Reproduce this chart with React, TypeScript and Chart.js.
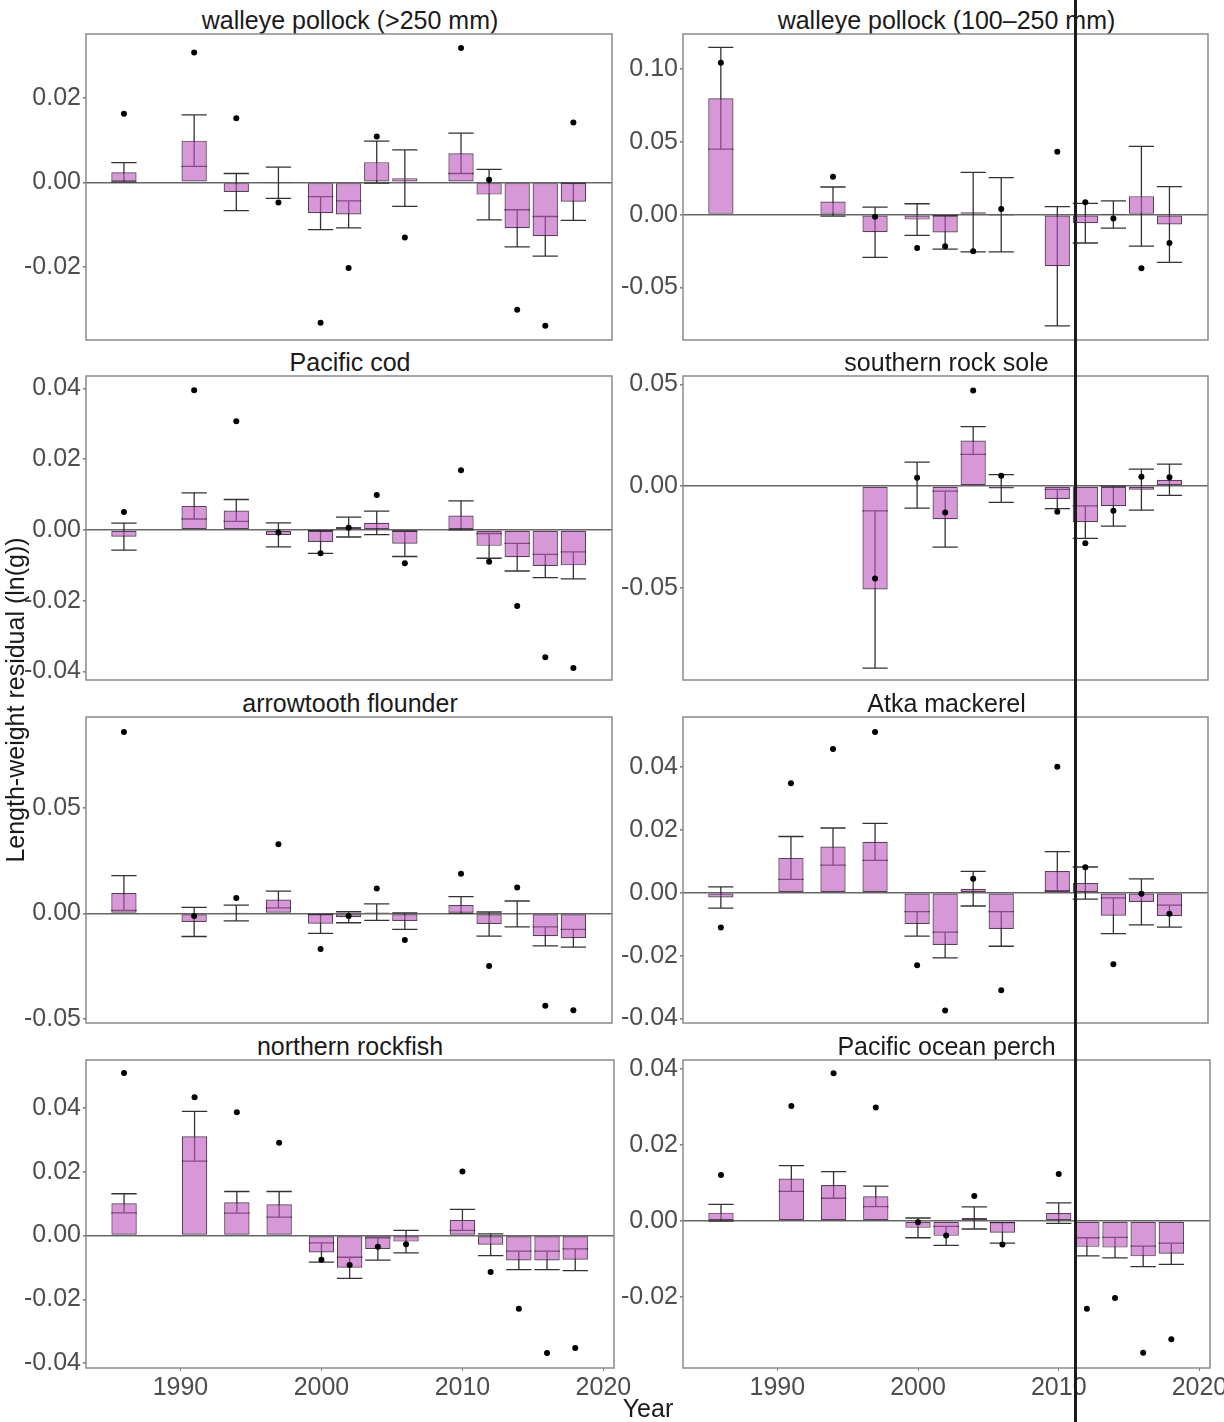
import React, { useEffect, useRef } from "react";
import { Chart, registerables } from "chart.js";

Chart.register(...registerables);

const FONT = "'Liberation Sans', Arial, Helvetica, sans-serif";

// Survey years (x categories)
const YEARS = [1986, 1991, 1994, 1997, 2000, 2002, 2004, 2006, 2010, 2012, 2014, 2016, 2018];
const X_TICKS = [1990, 2000, 2010, 2020];

// walleye pollock (>250 mm)
const pollockLargeMean = [0.0024, 0.0099, -0.0023, -0.0001, -0.0073, -0.0076, 0.0048, 0.001, 0.0069, -0.0029, -0.0109, -0.0128, -0.0046];
const pollockLargeSE = [0.0023, 0.0061, 0.0044, 0.0037, 0.0039, 0.0032, 0.005, 0.0067, 0.0048, 0.006, 0.0044, 0.0047, 0.0044];
const pollockLargePoint = [0.0163, 0.0308, 0.0152, -0.0048, -0.0333, -0.0203, 0.0109, -0.0131, 0.0319, 0.0006, -0.0302, -0.034, 0.0142];
const pollockLargeTicks = [-0.02, 0, 0.02];

// walleye pollock (100–250 mm)
const pollockSmallMean = [0.08, null, 0.009, -0.0121, -0.0034, -0.0122, 0.0017, -0.0001, -0.0355, -0.0059, 0.0001, 0.0127, -0.0068];
const pollockSmallSE = [0.035, null, 0.01, 0.0173, 0.0109, 0.0115, 0.0273, 0.0255, 0.041, 0.0136, 0.0094, 0.0343, 0.026];
const pollockSmallPoint = [0.1045, null, 0.026, -0.0014, -0.0229, -0.0217, -0.0251, 0.0039, 0.0432, 0.0086, -0.0027, -0.0369, -0.0195];
const pollockSmallTicks = [-0.05, 0, 0.05, 0.1];

// Pacific cod
const codMean = [-0.0019, 0.0068, 0.0055, -0.0014, -0.0034, 0.0008, 0.002, -0.0039, 0.0041, -0.0045, -0.0077, -0.0102, -0.01];
const codSE = [0.0038, 0.0037, 0.0031, 0.0034, 0.0032, 0.0028, 0.0033, 0.0036, 0.0041, 0.0035, 0.0039, 0.0033, 0.0038];
const codPoint = [0.0051, 0.0395, 0.0307, -0.0007, -0.0066, 0.0006, 0.0099, -0.0094, 0.0169, -0.009, -0.0215, -0.036, -0.039];
const codTicks = [-0.04, -0.02, 0, 0.02, 0.04];

// southern rock sole
const soleMean = [null, null, null, -0.0509, 0.0004, -0.0163, 0.0224, -0.0012, -0.0064, -0.0178, -0.0099, -0.0018, 0.0031];
const soleSE = [null, null, null, 0.0387, 0.0113, 0.0138, 0.0068, 0.0068, 0.0047, 0.008, 0.0098, 0.0101, 0.0077];
const solePoint = [null, null, null, -0.0455, 0.0041, -0.013, 0.047, 0.0051, -0.0127, -0.0281, -0.0122, 0.0045, 0.0043];
const soleTicks = [-0.05, 0, 0.05];

// arrowtooth flounder
const arrowtoothMean = [0.0097, -0.004, 0.0002, 0.0066, -0.0049, -0.0018, 0.0006, -0.0036, 0.004, -0.005, -0.0002, -0.0108, -0.0117];
const arrowtoothSE = [0.0082, 0.0069, 0.0037, 0.004, 0.0045, 0.0026, 0.0039, 0.0039, 0.004, 0.0057, 0.0061, 0.0045, 0.0042];
const arrowtoothPoint = [0.0858, -0.0012, 0.0073, 0.0327, -0.0168, -0.0012, 0.0118, -0.0125, 0.0188, -0.0249, 0.0123, -0.0437, -0.0458];
const arrowtoothTicks = [-0.05, 0, 0.05];

// Atka mackerel
const atkaMean = [-0.0015, 0.0111, 0.0147, 0.0162, -0.0099, -0.0166, 0.0013, -0.0115, 0.0069, 0.0031, -0.0073, -0.0029, -0.0074];
const atkaSE = [0.0034, 0.0068, 0.0059, 0.0059, 0.0039, 0.0041, 0.0055, 0.0055, 0.0062, 0.0051, 0.0057, 0.0073, 0.0035];
const atkaPoint = [-0.011, 0.0348, 0.0457, 0.0511, -0.023, -0.0374, 0.0045, -0.031, 0.0401, 0.0081, -0.0227, -0.0003, -0.0067];
const atkaTicks = [-0.04, -0.02, 0, 0.02, 0.04];

// northern rockfish
const northernMean = [0.0101, 0.0311, 0.0104, 0.0098, -0.0053, -0.0101, -0.0042, -0.0019, 0.0049, -0.0029, -0.0078, -0.0078, -0.0076];
const northernSE = [0.003, 0.0078, 0.0034, 0.004, 0.003, 0.0033, 0.0035, 0.0035, 0.0033, 0.0034, 0.0029, 0.0029, 0.0034];
const northernPoint = [0.0509, 0.0433, 0.0386, 0.0291, -0.0076, -0.0092, -0.0035, -0.0027, 0.0201, -0.0114, -0.0229, -0.0368, -0.0352];
const northernTicks = [-0.04, -0.02, 0, 0.02, 0.04];

// Pacific ocean perch
const popMean = [0.0022, 0.0112, 0.0095, 0.0065, -0.0018, -0.0039, 0.0008, -0.0031, 0.0021, -0.0068, -0.007, -0.0093, -0.0086];
const popSE = [0.0022, 0.0034, 0.0035, 0.0027, 0.0026, 0.0025, 0.0029, 0.0027, 0.0027, 0.0024, 0.0027, 0.0027, 0.0028];
const popPoint = [0.0121, 0.0303, 0.0389, 0.0299, -0.0003, -0.0038, 0.0066, -0.0062, 0.0124, -0.0231, -0.0203, -0.0347, -0.0311];
const popTicks = [-0.02, 0, 0.02, 0.04];

type Panel = {
  title: string;
  mean: (number | null)[];
  se: (number | null)[];
  point: (number | null)[];
  yMin: number;
  yMax: number;
  yTicks: number[];
  row: number;
  col: number;
};

const PANELS: Panel[] = [
  { title: "walleye pollock (>250 mm)", mean: pollockLargeMean, se: pollockLargeSE, point: pollockLargePoint, yMin: -0.0374, yMax: 0.0352, yTicks: pollockLargeTicks, row: 0, col: 0 },
  { title: "walleye pollock (100\u2013250 mm)", mean: pollockSmallMean, se: pollockSmallSE, point: pollockSmallPoint, yMin: -0.0862, yMax: 0.1242, yTicks: pollockSmallTicks, row: 0, col: 1 },
  { title: "Pacific cod", mean: codMean, se: codSE, point: codPoint, yMin: -0.0424, yMax: 0.0435, yTicks: codTicks, row: 1, col: 0 },
  { title: "southern rock sole", mean: soleMean, se: soleSE, point: solePoint, yMin: -0.0954, yMax: 0.0541, yTicks: soleTicks, row: 1, col: 1 },
  { title: "arrowtooth flounder", mean: arrowtoothMean, se: arrowtoothSE, point: arrowtoothPoint, yMin: -0.0518, yMax: 0.0929, yTicks: arrowtoothTicks, row: 2, col: 0 },
  { title: "Atka mackerel", mean: atkaMean, se: atkaSE, point: atkaPoint, yMin: -0.0414, yMax: 0.0559, yTicks: atkaTicks, row: 2, col: 1 },
  { title: "northern rockfish", mean: northernMean, se: northernSE, point: northernPoint, yMin: -0.0415, yMax: 0.055, yTicks: northernTicks, row: 3, col: 0 },
  { title: "Pacific ocean perch", mean: popMean, se: popSE, point: popPoint, yMin: -0.0387, yMax: 0.0424, yTicks: popTicks, row: 3, col: 1 },
];

const COLS = [
  { left: 86, right: 614 },
  { left: 683, right: 1210 },
];
const ROWS = [
  { top: 32, bottom: 342 },
  { top: 374, bottom: 682 },
  { top: 715, bottom: 1025 },
  { top: 1058, bottom: 1368 },
];
const AX = 90;
const PAD = 2;
const XH = 36;
const X_MIN = 1983.3;
const X_MAX = 2020.75;
const TICK_SIZE = 25;
const TICK_COLOR = "#4d4d4d";
const TEXT_SIZE = 25;

function makeDecor(p: Panel) {
  return {
    id: "panelDecor",
    beforeDatasetsDraw(chart: any) {
      const { ctx } = chart;
      const x = chart.scales.x;
      const y = chart.scales.y;
      ctx.save();
      ctx.strokeStyle = "#333333";
      ctx.lineWidth = 1.3;
      YEARS.forEach((yr, i) => {
        const m = p.mean[i];
        const s = p.se[i];
        if (m == null || s == null) return;
        const xc = x.getPixelForValue(yr);
        const xl = x.getPixelForValue(yr - 0.9);
        const xr = x.getPixelForValue(yr + 0.9);
        const yt = y.getPixelForValue(m + s);
        const yb = y.getPixelForValue(m - s);
        ctx.beginPath();
        ctx.moveTo(xc, yt);
        ctx.lineTo(xc, yb);
        ctx.moveTo(xl, yt);
        ctx.lineTo(xr, yt);
        ctx.moveTo(xl, yb);
        ctx.lineTo(xr, yb);
        ctx.stroke();
      });
      ctx.restore();
    },
    afterDraw(chart: any) {
      const { ctx, chartArea: a } = chart;
      ctx.save();
      ctx.strokeStyle = "#8a8a8a";
      ctx.lineWidth = 1.5;
      ctx.strokeRect(a.left, a.top, a.right - a.left, a.bottom - a.top);
      ctx.restore();
    },
  };
}

function PanelChart({ p }: { p: Panel }) {
  const ref = useRef<HTMLCanvasElement>(null);
  const col = COLS[p.col];
  const row = ROWS[p.row];
  const isBottom = p.row === 3;
  const plotW = col.right - col.left;
  const plotH = row.bottom - row.top;
  const rpad = isBottom ? 40 : PAD;
  const w = AX + plotW + rpad;
  const h = plotH + 2 * PAD + (isBottom ? XH : 0);

  useEffect(() => {
    const bars = YEARS.map((yr, i) => (p.mean[i] == null ? null : { x: yr, y: p.mean[i] as number })).filter(
      (d) => d !== null
    );
    const pts = YEARS.map((yr, i) => (p.point[i] == null ? null : { x: yr, y: p.point[i] as number })).filter(
      (d) => d !== null
    );
    const chart = new Chart(ref.current as HTMLCanvasElement, {
      type: "bar",
      data: {
        datasets: [
          {
            type: "scatter",
            data: pts as any,
            pointRadius: 3,
            pointBackgroundColor: "#000",
            pointBorderWidth: 0,
            order: 0,
          } as any,
          {
            type: "bar",
            data: bars as any,
            backgroundColor: "rgba(190,88,190,0.62)",
            borderColor: "rgba(60,30,60,0.85)",
            borderWidth: 1.2,
            borderSkipped: false,
            categoryPercentage: 0.9,
            barPercentage: 1,
            order: 1,
          } as any,
        ],
      },
      options: {
        responsive: false,
        animation: false,
        events: [],
        layout: { padding: { left: 0, top: PAD, right: rpad, bottom: PAD } },
        plugins: { legend: { display: false }, tooltip: { enabled: false } },
        scales: {
          x: {
            type: "linear",
            min: X_MIN,
            max: X_MAX,
            offset: false,
            display: isBottom,
            grid: {
              display: true,
              offset: false,
              drawOnChartArea: false,
              drawTicks: true,
              tickLength: 3,
              tickColor: "#808080",
            },
            border: { display: false },
            ticks: {
              font: { size: TICK_SIZE, family: FONT },
              color: TICK_COLOR,
              padding: 2,
              maxRotation: 0,
              autoSkip: false,
              callback: (v: any) => String(v),
            },
            afterBuildTicks: (s: any) => {
              s.ticks = X_TICKS.map((v) => ({ value: v }));
            },
            afterFit: (s: any) => {
              if (isBottom) s.height = XH;
              s.paddingLeft = 0;
              s.paddingRight = 0;
            },
          } as any,
          y: {
            type: "linear",
            min: p.yMin,
            max: p.yMax,
            grid: {
              color: (c: any) => (c.tick && Math.abs(c.tick.value) < 1e-9 ? "#666666" : "rgba(0,0,0,0)"),
              lineWidth: 1.6,
              drawTicks: true,
              tickLength: 3,
              tickColor: "#808080",
            },
            border: { display: false },
            ticks: {
              font: { size: TICK_SIZE, family: FONT },
              color: TICK_COLOR,
              padding: 2,
              callback: (v: any) => Number(v).toFixed(2),
            },
            afterBuildTicks: (s: any) => {
              s.ticks = p.yTicks.map((v) => ({ value: v }));
            },
            afterFit: (s: any) => {
              s.width = AX;
              s.paddingTop = 0;
              s.paddingBottom = 0;
            },
          } as any,
        },
      },
      plugins: [makeDecor(p)],
    });
    return () => chart.destroy();
  }, []);

  return (
    <>
      <div
        style={{
          position: "absolute",
          left: col.left - 40,
          width: plotW + 80,
          top: row.top - 25,
          height: 26,
          lineHeight: "26px",
          textAlign: "center",
          fontFamily: FONT,
          fontSize: TEXT_SIZE,
          color: "#1a1a1a",
          whiteSpace: "nowrap",
        }}
      >
        {p.title}
      </div>
      <canvas
        ref={ref}
        width={w}
        height={h}
        style={{ position: "absolute", left: col.left - AX, top: row.top - PAD, width: w, height: h }}
      />
    </>
  );
}

export default function App() {
  return (
    <div
      style={{
        position: "absolute",
        left: 0,
        top: 0,
        width: 1224,
        height: 1422,
        overflow: "hidden",
        background: "#fff",
      }}
    >
      {PANELS.map((p, i) => (
        <PanelChart key={i} p={p} />
      ))}
      <div
        style={{
          position: "absolute",
          left: 15 - 250,
          top: 700 - 14,
          width: 500,
          height: 28,
          lineHeight: "28px",
          textAlign: "center",
          transform: "rotate(-90deg)",
          fontFamily: FONT,
          fontSize: TEXT_SIZE,
          color: "#1a1a1a",
          whiteSpace: "nowrap",
        }}
      >
        Length-weight residual (ln(g))
      </div>
      <div
        style={{
          position: "absolute",
          left: 648 - 100,
          top: 1394,
          width: 200,
          height: 28,
          lineHeight: "28px",
          textAlign: "center",
          fontFamily: FONT,
          fontSize: TEXT_SIZE,
          color: "#1a1a1a",
        }}
      >
        Year
      </div>
      <div style={{ position: "absolute", left: 1074, top: 0, width: 3, height: 1422, background: "#1b1b1b" }} />
    </div>
  );
}
